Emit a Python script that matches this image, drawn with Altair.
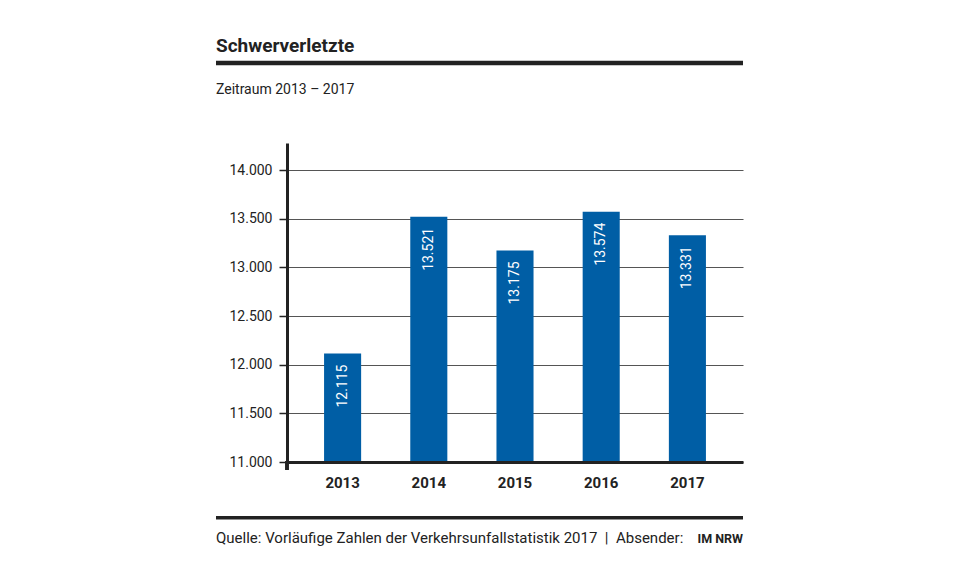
import altair as alt
import pandas as pd

years = ["2013", "2014", "2015", "2016", "2017"]
values = [12115, 13521, 13175, 13574, 13331]
y_ticks = [11000, 11500, 12000, 12500, 13000, 13500, 14000]

title_text = "Schwerverletzte"
subtitle_text = "Zeitraum 2013 – 2017"
source_text = "Quelle: Vorläufige Zahlen der Verkehrsunfallstatistik 2017\u00a0\u00a0|\u00a0\u00a0Absender:"
sender_text = "IM NRW"

df = pd.DataFrame({"Jahr": years, "Wert": values})
df["Label"] = [f"{v:,}".replace(",", ".") for v in values]

FONT = "Roboto"
INK = "#222222"
BLUE = "#005ea5"
W, H = 456, 319

x = alt.X(
    "Jahr:N", sort=years,
    scale=alt.Scale(paddingInner=0.57, paddingOuter=0.43),
    axis=alt.Axis(title=None, labelAngle=0, labelFontWeight="bold", labelFontSize=15,
                  labelColor=INK, labelPadding=13, ticks=False, domain=True,
                  domainColor=INK, domainWidth=3, labelFont=FONT, zindex=1),
)
y = alt.Y(
    "Wert:Q",
    scale=alt.Scale(domain=[11000, 14280], nice=False, zero=False),
    axis=alt.Axis(title=None, values=y_ticks,
                  labelExpr="replace(format(datum.value, ','), ',', '.')",
                  grid=True, gridColor="#555555", gridWidth=1,
                  domainColor=INK, domainWidth=3, tickColor=INK, tickSize=8,
                  tickWidth=1.5, labelFontSize=14, labelColor=INK, labelPadding=7,
                  labelFont=FONT),
)

base = alt.Chart(df)
bars = base.mark_bar(color=BLUE, clip=True).encode(x=x, y=y)
labels = base.mark_text(angle=270, align="right", baseline="middle", dx=-11,
                        color="white", fontSize=14, font=FONT).encode(
    x=alt.X("Jahr:N", sort=years), y="Wert:Q", text="Label:N")

yext = alt.Chart(df).mark_rule(color=INK, strokeWidth=3).encode(
    x=alt.value(0), y=alt.value(H - 1), y2=alt.value(H + 8))

one = pd.DataFrame({"a": [0]})
title = alt.Chart(one).mark_text(text=title_text, align="left", baseline="alphabetic",
                                 fontSize=19, fontWeight="bold", font=FONT, color=INK).encode(
    x=alt.value(-71), y=alt.value(-91))
topline = alt.Chart(one).mark_rule(color=INK, strokeWidth=4.5).encode(
    x=alt.value(-71), x2=alt.value(W), y=alt.value(-80))
subtitle = alt.Chart(one).mark_text(text=subtitle_text, align="left", baseline="alphabetic",
                                    fontSize=14, font=FONT, color=INK).encode(
    x=alt.value(-71), y=alt.value(-49))
bottomline = alt.Chart(one).mark_rule(color=INK, strokeWidth=3.5).encode(
    x=alt.value(-71), x2=alt.value(W), y=alt.value(374.7))
source = alt.Chart(one).mark_text(text=source_text, align="left", baseline="alphabetic",
                                  fontSize=15, font=FONT, color=INK).encode(
    x=alt.value(-71), y=alt.value(400))
sender = alt.Chart(one).mark_text(text=sender_text, align="right", baseline="alphabetic",
                                  fontSize=12.5, fontWeight="bold", font=FONT, color=INK).encode(
    x=alt.value(W), y=alt.value(400))

chart = alt.layer(bars, labels, yext, title, topline, subtitle, bottomline, source, sender).properties(
    width=W, height=H,
    autosize=alt.AutoSizeParams(type="none"),
    padding={"left": 279, "top": 135, "right": 210, "bottom": 111},
).configure(font=FONT).configure_view(stroke=None)

chart.save("out.html", embed_options={"renderer": "svg", "actions": False})
